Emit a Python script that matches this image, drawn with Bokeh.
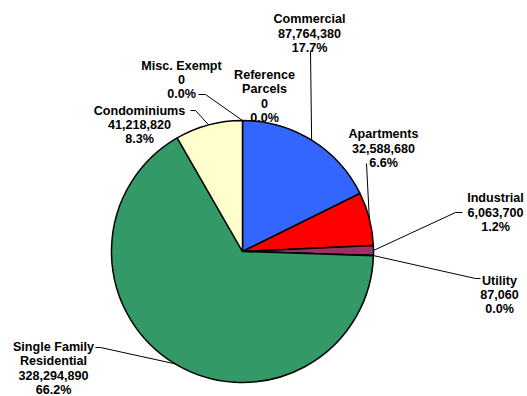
import math
from bokeh.plotting import figure
from bokeh.models import Range1d
from bokeh.core.properties import value
from bokeh.embed import file_html
from bokeh.resources import INLINE

# ---- data ----
categories = ["Reference\nParcels", "Commercial", "Apartments", "Industrial", "Utility",
              "Single Family\nResidential", "Condominiums", "Misc. Exempt"]
values = [0, 87764380, 32588680, 6063700, 87060, 328294890, 41218820, 0]
colors = ["#FFFFFF", "#3366FF", "#FF0000", "#993366", "#CCFFFF", "#339966", "#FFFFCC", "#FFFFFF"]

# ---- layout (pixel coords, y measured from top) ----
W, H = 527, 396
CX, CY, R = 242, 251, 131
FS = 12.6
LH = 14.4
# label centre x, first baseline y
label_pos = [(264, 74), (309, 18.5), (383, 133.5), (495, 197.5), (499, 280),
             (53, 346), (139, 110), (181, 65)]
# leader start points (label side); elbow point; None = no leader
leader_start = [None, (310, 50), (366, 163), (462, 212), (480, 278),
                (95, 347), (190, 110), (198, 94)]
leader_elbow = [None, None, None, (455, 212), (475, 278),
                (100, 347), (195, 110), (205, 94)]


def fy(py):
    return H - py


p = figure(width=W, height=H, output_backend="svg", toolbar_location=None,
           x_range=Range1d(0, W), y_range=Range1d(0, H),
           x_axis_location=None, y_axis_location=None, min_border=0)
p.outline_line_color = None
p.grid.visible = False
p.background_fill_color = "white"
p.border_fill_color = "white"

total = float(sum(values))
cum = 0.0
starts, ends, mids = [], [], []
for v in values:
    a0 = cum / total * 2 * math.pi
    cum += v
    a1 = cum / total * 2 * math.pi
    starts.append(a0)
    ends.append(a1)
    mids.append((a0 + a1) / 2)

# wedges (clockwise from 12 o'clock)
for v, a0, a1, c in zip(values, starts, ends, colors):
    if v <= 0:
        continue
    p.wedge(x=CX, y=fy(CY), radius=R,
            start_angle=math.pi / 2 - a1, end_angle=math.pi / 2 - a0,
            fill_color=c, line_color="black", line_width=1.5)

# leader lines
for i in range(len(values)):
    s = leader_start[i]
    if s is None:
        continue
    m = mids[i]
    ex = CX + R * math.sin(m)
    ey = CY - R * math.cos(m)
    pts = [s]
    if leader_elbow[i] is not None:
        pts.append(leader_elbow[i])
    pts.append((ex, ey))
    p.line(x=[q[0] for q in pts], y=[fy(q[1]) for q in pts], line_color="black", line_width=1)

# labels
for i, (name, v) in enumerate(zip(categories, values)):
    pct = v / total * 100
    lines = name.split("\n") + [f"{v:,}", f"{pct:.1f}%"]
    lx, ly = label_pos[i]
    xs = [lx] * len(lines)
    ys = [fy(ly + k * LH) for k in range(len(lines))]
    p.text(x=xs, y=ys, text=lines, text_align="center", text_baseline="alphabetic",
           text_font=value("Liberation Sans"), text_font_style="bold",
           text_font_size=f"{FS}px", text_color="black")

open("out.html", "w").write(file_html(p, INLINE))
